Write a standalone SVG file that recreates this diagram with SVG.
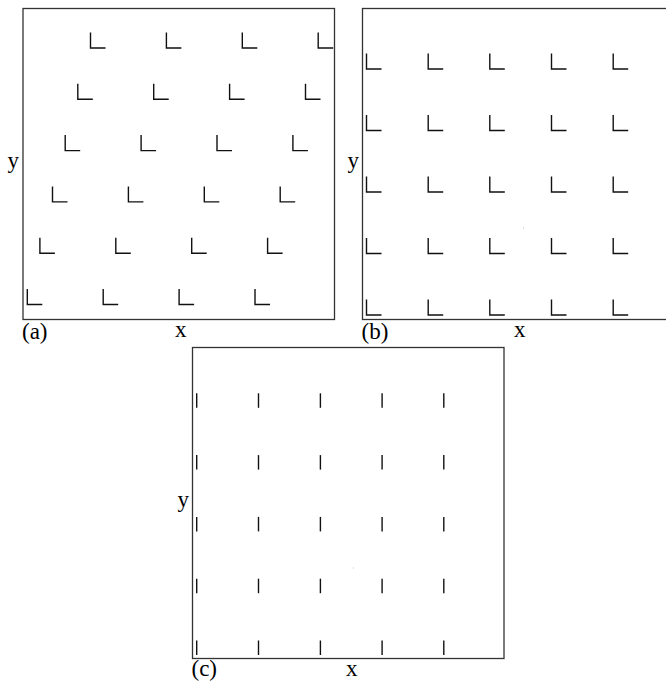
<svg xmlns="http://www.w3.org/2000/svg" xmlns:xlink="http://www.w3.org/1999/xlink" width="666" height="681" viewBox="0 0 666 681">
<style>
.box{fill:none;stroke:#333;stroke-width:1.3}
.mk{fill:none;stroke:#111;stroke-width:1.4}
.lbl{font-family:"Liberation Serif","Times New Roman",serif;font-size:23px;fill:#000}
.dot{fill:#bbb}
</style>
<defs>
<path id="L" class="mk" d="M0,-15.5V0H15"/>
<path id="T" class="mk" d="M0,-14.5V0"/>
</defs>
<rect width="666" height="681" fill="#fff"/>
<g id="panel-a">
<rect class="box" x="23" y="8.5" width="311.5" height="311"/>
<use xlink:href="#L" x="90.5" y="48"/><use xlink:href="#L" x="166.4" y="48"/><use xlink:href="#L" x="242.3" y="48"/><use xlink:href="#L" x="318.2" y="48"/>
<use xlink:href="#L" x="77.8" y="99.3"/><use xlink:href="#L" x="153.7" y="99.3"/><use xlink:href="#L" x="229.6" y="99.3"/><use xlink:href="#L" x="305.5" y="99.3"/>
<use xlink:href="#L" x="65.2" y="150.6"/><use xlink:href="#L" x="141.1" y="150.6"/><use xlink:href="#L" x="217" y="150.6"/><use xlink:href="#L" x="292.9" y="150.6"/>
<use xlink:href="#L" x="52.5" y="201.9"/><use xlink:href="#L" x="128.4" y="201.9"/><use xlink:href="#L" x="204.3" y="201.9"/><use xlink:href="#L" x="280.2" y="201.9"/>
<use xlink:href="#L" x="39.9" y="253.2"/><use xlink:href="#L" x="115.8" y="253.2"/><use xlink:href="#L" x="191.7" y="253.2"/><use xlink:href="#L" x="267.6" y="253.2"/>
<use xlink:href="#L" x="27.3" y="304.5"/><use xlink:href="#L" x="103.2" y="304.5"/><use xlink:href="#L" x="179.1" y="304.5"/><use xlink:href="#L" x="255" y="304.5"/>
<text class="lbl" x="7.5" y="168">y</text>
<text class="lbl" x="22" y="339">(a)</text>
<text class="lbl" x="175" y="337">x</text>
</g>
<g id="panel-b">
<rect class="box" x="362.5" y="8.5" width="311.5" height="311"/>
<use xlink:href="#L" x="366.5" y="69"/><use xlink:href="#L" x="428.2" y="69"/><use xlink:href="#L" x="489.8" y="69"/><use xlink:href="#L" x="551.5" y="69"/><use xlink:href="#L" x="613.2" y="69"/>
<use xlink:href="#L" x="366.5" y="130.5"/><use xlink:href="#L" x="428.2" y="130.5"/><use xlink:href="#L" x="489.8" y="130.5"/><use xlink:href="#L" x="551.5" y="130.5"/><use xlink:href="#L" x="613.2" y="130.5"/>
<use xlink:href="#L" x="366.5" y="192"/><use xlink:href="#L" x="428.2" y="192"/><use xlink:href="#L" x="489.8" y="192"/><use xlink:href="#L" x="551.5" y="192"/><use xlink:href="#L" x="613.2" y="192"/>
<use xlink:href="#L" x="366.5" y="253.5"/><use xlink:href="#L" x="428.2" y="253.5"/><use xlink:href="#L" x="489.8" y="253.5"/><use xlink:href="#L" x="551.5" y="253.5"/><use xlink:href="#L" x="613.2" y="253.5"/>
<use xlink:href="#L" x="366.5" y="315"/><use xlink:href="#L" x="428.2" y="315"/><use xlink:href="#L" x="489.8" y="315"/><use xlink:href="#L" x="551.5" y="315"/><use xlink:href="#L" x="613.2" y="315"/>
<rect class="dot" x="523" y="227.5" width="1" height="1"/>
<text class="lbl" x="347.5" y="167.5">y</text>
<text class="lbl" x="361.5" y="339">(b)</text>
<text class="lbl" x="514" y="337">x</text>
</g>
<g id="panel-c">
<rect class="box" x="192.5" y="347.5" width="311.5" height="311"/>
<use xlink:href="#T" x="196.7" y="407.8"/><use xlink:href="#T" x="258.5" y="407.8"/><use xlink:href="#T" x="320.4" y="407.8"/><use xlink:href="#T" x="382.1" y="407.8"/><use xlink:href="#T" x="443.8" y="407.8"/>
<use xlink:href="#T" x="196.7" y="469.6"/><use xlink:href="#T" x="258.5" y="469.6"/><use xlink:href="#T" x="320.4" y="469.6"/><use xlink:href="#T" x="382.1" y="469.6"/><use xlink:href="#T" x="443.8" y="469.6"/>
<use xlink:href="#T" x="196.7" y="531.4"/><use xlink:href="#T" x="258.5" y="531.4"/><use xlink:href="#T" x="320.4" y="531.4"/><use xlink:href="#T" x="382.1" y="531.4"/><use xlink:href="#T" x="443.8" y="531.4"/>
<use xlink:href="#T" x="196.7" y="593.2"/><use xlink:href="#T" x="258.5" y="593.2"/><use xlink:href="#T" x="320.4" y="593.2"/><use xlink:href="#T" x="382.1" y="593.2"/><use xlink:href="#T" x="443.8" y="593.2"/>
<use xlink:href="#T" x="196.7" y="655"/><use xlink:href="#T" x="258.5" y="655"/><use xlink:href="#T" x="320.4" y="655"/><use xlink:href="#T" x="382.1" y="655"/><use xlink:href="#T" x="443.8" y="655"/>
<rect class="dot" x="353" y="567.5" width="1" height="1"/>
<text class="lbl" x="177.5" y="507">y</text>
<text class="lbl" x="191.5" y="676">(c)</text>
<text class="lbl" x="346" y="676">x</text>
</g>
</svg>
